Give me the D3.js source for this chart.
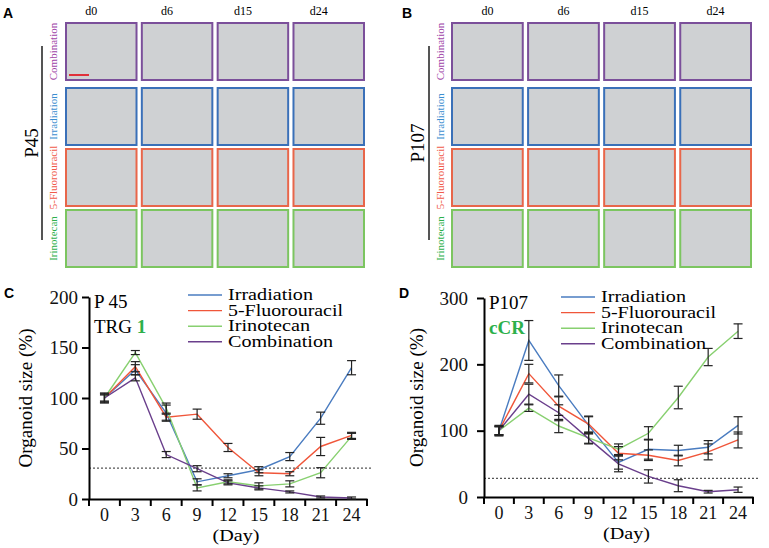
<!DOCTYPE html>
<html>
<head>
<meta charset="utf-8">
<script src="https://cdn.jsdelivr.net/npm/d3@7"></script>
<style>
  body { margin: 0; background: #fff; }
  svg text { font-family: "Liberation Serif", "Times New Roman", Times, serif; }
  svg text.letter { font-family: "Liberation Sans", Arial, sans-serif; }
</style>
</head>
<body>
<svg id="fig" width="769" height="548"></svg>
<script>
"use strict";

//
// Data
//
var days = [0, 3, 6, 9, 12, 15, 18, 21, 24];
var seriesNames = ["Irradiation", "5-Fluorouracil", "Irinotecan", "Combination"];
var seriesColors = ["#4a7cc0", "#f0563a", "#88d070", "#6a3f8c"];
var legendWidths = [85, 115, 82, 105];

// panel C, P45
var irrC = [100, 128, 85, 17, 23, 29, 42, 80, 130];
var irrErrC = [5, 5, 8, 3, 2, 3, 4, 6, 7];
var fuC = [100, 131, 81, 84, 51, 26, 25, 52, 63];
var fuErrC = [4, 5, 3, 5, 4, 3, 2, 9, 3];
var iriC = [100, 145, 90, 11, 17, 13, 15, 26, 62];
var iriErrC = [4, 2, 5, 3, 2, 3, 3, 5, 3];
var comC = [100, 120, 44, 30, 16, 11, 7, 2, 1];
var comErrC = [3, 3, 3, 3, 2, 2, 1, 1, 1];

// panel D, P107
var irrD = [100, 236, 168, 108, 52, 72, 70, 75, 108];
var irrErrD = [8, 30, 16, 13, 10, 15, 8, 10, 13];
var fuD = [100, 186, 137, 110, 66, 63, 55, 68, 86];
var fuErrD = [7, 14, 14, 12, 10, 8, 8, 12, 12];
var iriD = [100, 134, 107, 89, 72, 96, 150, 211, 250];
var iriErrD = [6, 5, 10, 8, 8, 10, 17, 13, 11];
var comD = [100, 155, 127, 88, 50, 31, 17, 8, 11];
var comErrD = [6, 15, 12, 8, 12, 10, 9, 2, 4];

// image grid labels
var timepoints = ["d0", "d6", "d15", "d24"];
var treatments = ["Combination", "Irradiation", "5-Fluorouracil", "Irinotecan"];
var frameColors = ["#7b4f9a", "#3a70b8", "#e8664a", "#7cc560"];
var labelColors = ["#a044a8", "#3b8ed0", "#f05a4a", "#2db04b"];

var svg = d3.select("#fig");

//
// Panel letters
//
var letters = [["A", 3, 18], ["B", 402, 18], ["C", 4, 298], ["D", 399, 298]];
svg.selectAll(".letter")
	.data(letters)
	.enter()
	.append("text")
	.attr("class", "letter")
	.attr("x", function(d) { return d[1]; })
	.attr("y", function(d) { return d[2]; })
	.style("font-weight", "bold")
	.style("font-size", "14px")
	.text(function(d) { return d[0]; });

//
// Image grids (A, B) - photos replaced by plain frames
//
function drawGrid(cfg) {
	var g = svg.append("g");
	var col = d3.scaleBand().domain(timepoints).range([cfg.x0, cfg.x1]).paddingInner(0.07);
	var row = d3.scaleOrdinal().domain(treatments).range([23, 88, 149, 210]);
	var cellH = 57;

	g.selectAll(".hdr")
		.data(timepoints)
		.enter()
		.append("text")
		.attr("x", function(d) { return col(d) + col.bandwidth() / 2 + cfg.hdrShift; })
		.attr("y", 15)
		.attr("text-anchor", "middle")
		.style("font-size", "12px")
		.text(function(d) { return d; });

	var cells = [];
	treatments.forEach(function(t, i) {
		timepoints.forEach(function(p) { cells.push({ t: t, p: p, i: i }); });
	});

	g.selectAll(".cell")
		.data(cells)
		.enter()
		.append("rect")
		.attr("x", function(d) { return col(d.p); })
		.attr("y", function(d) { return row(d.t); })
		.attr("width", col.bandwidth())
		.attr("height", cellH)
		.attr("fill", "#cfd1d3")
		.attr("stroke", function(d) { return frameColors[d.i]; })
		.attr("stroke-width", 2);

	g.selectAll(".rowlab")
		.data(treatments)
		.enter()
		.append("text")
		.attr("transform", function(d) {
			return "translate(" + cfg.labX + "," + (row(d) + cellH / 2) + ") rotate(-90)";
		})
		.attr("text-anchor", "middle")
		.style("font-size", "11px")
		.style("fill", function(d, i) { return labelColors[i]; })
		.text(function(d) { return d; });

	g.append("line")
		.attr("x1", cfg.barX).attr("x2", cfg.barX)
		.attr("y1", 46).attr("y2", 240)
		.attr("stroke", "#555")
		.attr("stroke-width", 2);

	g.append("text")
		.attr("transform", "translate(" + cfg.nameX + ",143) rotate(-90)")
		.attr("text-anchor", "middle")
		.style("font-size", "19px")
		.text(cfg.name);

	if (cfg.scaleBar) {
		g.append("line")
			.attr("x1", col(timepoints[0]) + 3).attr("x2", col(timepoints[0]) + 23)
			.attr("y1", 75).attr("y2", 75)
			.attr("stroke", "#e0303a")
			.attr("stroke-width", 2);
	}
}

drawGrid({ x0: 66, x1: 364, hdrShift: -10, labX: 57, barX: 42, nameX: 38, name: "P45", scaleBar: true });
drawGrid({ x0: 452, x1: 751, hdrShift: 0, labX: 444, barX: 429, nameX: 424, name: "P107", scaleBar: false });

//
// Line charts (C, D)
//
function drawChart(cfg) {
	var g = svg.append("g");

	var x = d3.scaleBand().domain(days).range([cfg.left, cfg.right]);
	var y = d3.scaleLinear().domain([0, cfg.yMax]).range([cfg.bottom, cfg.top]);

	// dotted threshold
	g.append("line")
		.attr("x1", cfg.left).attr("x2", cfg.right + 5)
		.attr("y1", y(cfg.cut)).attr("y2", y(cfg.cut))
		.attr("stroke", "#555")
		.attr("stroke-width", 1.3)
		.attr("stroke-dasharray", "2,2");

	// y axis
	var yAxis = d3.axisLeft(y)
		.tickValues(cfg.yTicks)
		.tickSizeInner(7)
		.tickSizeOuter(0)
		.tickPadding(cfg.yPad);
	var ya = g.append("g")
		.attr("transform", "translate(" + cfg.left + ",0)")
		.call(yAxis)
		.attr("font-family", null)
		.attr("font-size", null);
	ya.select(".domain").attr("stroke-width", 2);
	ya.selectAll(".tick line").attr("stroke-width", 2);
	ya.selectAll("text").style("font-size", "19px").attr("fill", "#111");

	// x axis: labels centred in bands, tick marks at band edges
	var xAxis = d3.axisBottom(x).tickSize(0).tickPadding(9);
	var xa = g.append("g")
		.attr("transform", "translate(0," + cfg.bottom + ")")
		.call(xAxis)
		.attr("font-family", null)
		.attr("font-size", null);
	xa.select(".domain").attr("stroke-width", 2);
	xa.selectAll("text").style("font-size", "18px").attr("fill", "#111");

	var edges = days.map(function(d) { return x(d); }).concat([cfg.right]);
	g.selectAll(".xedge")
		.data(edges)
		.enter()
		.append("line")
		.attr("x1", function(d) { return d; })
		.attr("x2", function(d) { return d; })
		.attr("y1", cfg.bottom)
		.attr("y2", cfg.bottom + 7)
		.attr("stroke", "#000")
		.attr("stroke-width", 2);

	g.append("text")
		.attr("x", (cfg.left + cfg.right) / 2 + 8)
		.attr("y", cfg.bottom + 42)
		.attr("text-anchor", "middle")
		.attr("textLength", 47)
		.attr("lengthAdjust", "spacingAndGlyphs")
		.style("font-size", "17px")
		.text("(Day)");

	g.append("text")
		.attr("transform", "translate(" + cfg.yLabX + "," + ((cfg.top + cfg.bottom) / 2) + ") rotate(-90)")
		.attr("text-anchor", "middle")
		.style("font-size", "19px")
		.text("Organoid size (%)");

	// series
	var line = d3.line()
		.x(function(d) { return x(d.day) + x.bandwidth() / 2; })
		.y(function(d) { return y(d.v); });

	var series = cfg.values.map(function(vals, k) {
		return {
			name: seriesNames[k],
			color: seriesColors[k],
			w: legendWidths[k],
			points: days.map(function(d, i) { return { day: d, v: vals[i], e: cfg.errs[k][i] }; })
		};
	});

	g.selectAll(".series")
		.data(series)
		.enter()
		.append("path")
		.attr("fill", "none")
		.attr("stroke", function(d) { return d.color; })
		.attr("stroke-width", 1.4)
		.attr("d", function(d) { return line(d.points); });

	var allPts = [];
	series.forEach(function(s) { allPts = allPts.concat(s.points); });
	var cap = 4.5;
	var eb = g.selectAll(".err")
		.data(allPts)
		.enter()
		.append("g")
		.attr("stroke", "#222")
		.attr("stroke-width", 1.2);
	eb.append("line")
		.attr("x1", function(d) { return x(d.day) + x.bandwidth() / 2; })
		.attr("x2", function(d) { return x(d.day) + x.bandwidth() / 2; })
		.attr("y1", function(d) { return y(Math.max(0, d.v - d.e)); })
		.attr("y2", function(d) { return y(d.v + d.e); });
	eb.append("line")
		.attr("x1", function(d) { return x(d.day) + x.bandwidth() / 2 - cap; })
		.attr("x2", function(d) { return x(d.day) + x.bandwidth() / 2 + cap; })
		.attr("y1", function(d) { return y(d.v + d.e); })
		.attr("y2", function(d) { return y(d.v + d.e); });
	eb.append("line")
		.attr("x1", function(d) { return x(d.day) + x.bandwidth() / 2 - cap; })
		.attr("x2", function(d) { return x(d.day) + x.bandwidth() / 2 + cap; })
		.attr("y1", function(d) { return y(Math.max(0, d.v - d.e)); })
		.attr("y2", function(d) { return y(Math.max(0, d.v - d.e)); });

	// legend
	var lg = g.append("g").attr("transform", "translate(" + cfg.legX + "," + cfg.legY + ")");
	var item = lg.selectAll(".leg")
		.data(series)
		.enter()
		.append("g")
		.attr("transform", function(d, i) { return "translate(0," + (i * 15.6) + ")"; });
	item.append("line")
		.attr("x1", 0).attr("x2", 34)
		.attr("stroke", function(d) { return d.color; })
		.attr("stroke-width", 1.4);
	item.append("text")
		.attr("x", 40)
		.attr("y", 5)
		.attr("textLength", function(d) { return d.w; })
		.attr("lengthAdjust", "spacingAndGlyphs")
		.style("font-size", "16px")
		.text(function(d) { return d.name; });

	// patient / response tags
	g.append("text")
		.attr("x", cfg.left + 5)
		.attr("y", cfg.top + 11)
		.style("font-size", "19px")
		.text(cfg.patient);
	var tag = g.append("text")
		.attr("x", cfg.left + 5)
		.attr("y", cfg.top + 36)
		.style("font-size", "19px");
	if (cfg.tagPrefix) tag.append("tspan").text(cfg.tagPrefix);
	tag.append("tspan")
		.style("fill", "#2db04b")
		.style("font-weight", "bold")
		.text(cfg.tag);
}

drawChart({
	left: 89, right: 367, top: 297, bottom: 499, yMax: 200,
	yTicks: [0, 50, 100, 150, 200], yPad: 4, yLabX: 32, cut: 30.5,
	values: [irrC, fuC, iriC, comC],
	errs: [irrErrC, fuErrC, iriErrC, comErrC],
	legX: 188, legY: 295,
	patient: "P 45", tagPrefix: "TRG ", tag: "1"
});

drawChart({
	left: 484, right: 753, top: 298, bottom: 497, yMax: 300,
	yTicks: [0, 100, 200, 300], yPad: 9, yLabX: 423, cut: 28,
	values: [irrD, fuD, iriD, comD],
	errs: [irrErrD, fuErrD, iriErrD, comErrD],
	legX: 561, legY: 297,
	patient: "P107", tagPrefix: "", tag: "cCR"
});
</script>
</body>
</html>
